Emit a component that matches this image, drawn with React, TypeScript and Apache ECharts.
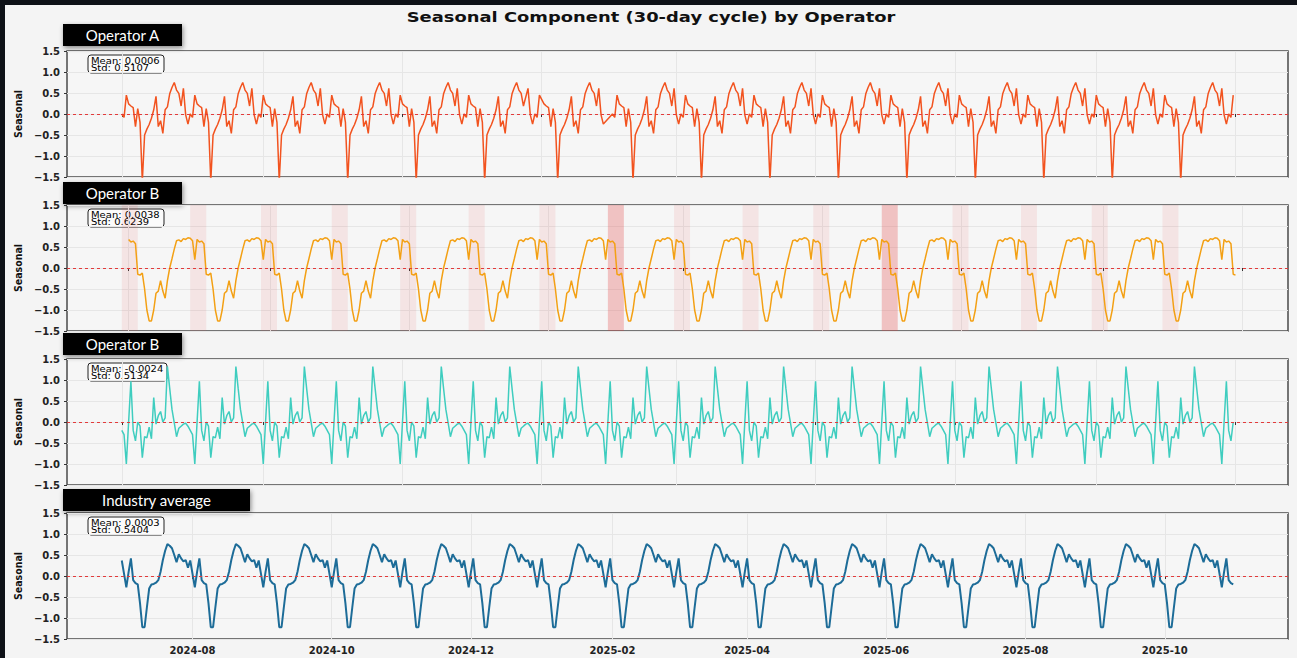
import React, { useEffect, useRef } from "react";
import * as echarts from "echarts";

// ---- data (one 30-sample seasonal cycle per operator) ----
const DATA_START = "2024-07-01";
const DATA_END = "2025-10-31";
const DATA_END_B = "2025-10-29";

// dates absent from the Operator A file
const MISSING_A_DATES = ["2024-12-25", "2025-01-01", "2025-01-29", "2025-01-30", "2025-01-31"];

const AXIS_RANGE = ["2024-06-07", "2025-11-24"];
const AXIS_RANGE_B = ["2024-06-04", "2025-11-21"];

const PANEL_NAMES = ["Operator A", "Operator B", "Operator B", "Industry average"];
const PANEL_COLORS = ["#f2531f", "#f3a014", "#3fcdbf", "#1d6c98"];

const CYCLE_A = [0.0, -0.08, 0.45, 0.24, 0.19, 0.15, -0.3, 0.13, -0.2, -1.6, -0.5, -0.36, -0.25, -0.1, 0.1, 0.42, -0.3, -0.16, -0.46, 0.1, 0.17, 0.48, 0.63, 0.75, 0.57, 0.49, 0.19, 0.61, -0.02, -0.24];
const CYCLE_B = [0.68, 0.62, 0.64, 0.58, -0.15, -0.17, -0.12, -0.5, -1.0, -1.26, -1.26, -1.0, -0.6, -0.55, -0.3, -0.55, -0.72, -0.3, 0.0, 0.22, 0.45, 0.65, 0.67, 0.63, 0.7, 0.68, 0.72, 0.71, 0.65, 0.2];
const CYCLE_C = [-0.2, -0.3, -1.0, 0.0, 0.97, -0.2, -0.45, 0.0, -0.1, -0.85, -0.35, -0.38, -0.12, -0.4, 0.58, -0.05, 0.15, 0.25, 0.0, 0.1, 1.32, 0.8, 0.3, -0.02, -0.35, -0.15, -0.1, -0.05, -0.03, -0.1];
const CYCLE_IND = [0.37, 0.05, -0.27, 0.1, 0.42, -0.1, -0.17, -0.2, -0.65, -1.22, -1.22, -0.75, -0.3, -0.2, -0.19, -0.16, -0.1, 0.1, 0.38, 0.6, 0.76, 0.72, 0.66, 0.5, 0.33, 0.52, 0.42, 0.35, 0.38, 0.2];

const STAT_MEANS = ["0.0006", "0.0038", "-0.0024", "0.0003"];
const STAT_STDS = ["0.5107", "0.6239", "0.5134", "0.5404"];

// shaded month-end periods on the Operator B panel (start dates, 7 days each)
const BAND_B_STARTS = ["2024-06-28", "2024-07-28", "2024-08-28", "2024-09-28", "2024-10-28", "2024-11-27", "2024-12-28", "2025-01-27", "2025-02-25", "2025-03-27", "2025-04-27", "2025-05-27", "2025-06-27", "2025-07-27", "2025-08-27", "2025-09-27"];
const BAND_B_STRONG = ["2025-01-27", "2025-05-27"];

const TOP_TICK_MONTHS = ["01", "03", "05", "07", "09", "11"];
const BOTTOM_TICK_MONTHS = ["02", "04", "06", "08", "10", "12"];

// ---- helpers ----
const DAY = 86400000;
const toMs = (s: string) => Date.UTC(+s.slice(0, 4), +s.slice(5, 7) - 1, +s.slice(8, 10));
const fmt = (ms: number) => new Date(ms).toISOString().slice(0, 10);
const dayRange = (a: string, b: string) => {
  const out: string[] = [];
  for (let t = toMs(a); t <= toMs(b); t += DAY) out.push(fmt(t));
  return out;
};
// repeat the 30-sample cycle over the samples present in a file
const tile = (cycle: number[], cats: string[], end: string, missing: string[]) => {
  let n = 0;
  return cats.map((d) => {
    if (d < DATA_START || d > end) return null;
    if (missing.includes(d)) return null;
    const v = cycle[n % cycle.length];
    n += 1;
    return v;
  });
};
const tickFn = (months: string[]) => (_i: number, v: string) =>
  v.slice(8) === "01" && months.includes(v.slice(5, 7));

const PANEL_TOPS = [51, 205, 359, 513];
const PANEL_H = 126;

export default function App() {
  const ref = useRef<HTMLDivElement>(null);
  useEffect(() => {
    if (!ref.current) return;
    const chart = echarts.init(ref.current, undefined, { renderer: "svg" });
    const catsMain = dayRange(AXIS_RANGE[0], AXIS_RANGE[1]);
    const catsB = dayRange(AXIS_RANGE_B[0], AXIS_RANGE_B[1]);
    const cycles = [CYCLE_A, CYCLE_B, CYCLE_C, CYCLE_IND];
    const catsPer = [catsMain, catsB, catsMain, catsMain];
    const endPer = [DATA_END, DATA_END_B, DATA_END, DATA_END];
    const missingPer = [MISSING_A_DATES, [], [], []];

    const grids = PANEL_TOPS.map((top) => ({
      left: 67,
      right: 9,
      top,
      height: PANEL_H,
      show: true,
      backgroundColor: "#f6f6f6",
      borderColor: "#4a4a4a",
      borderWidth: 1.5,
      containLabel: false,
      outerBoundsMode: "none",
    }));

    const xAxes = catsPer.map((cats, i) => {
      const fn = tickFn(i === 3 ? BOTTOM_TICK_MONTHS : TOP_TICK_MONTHS);
      return {
        type: "category",
        gridIndex: i,
        data: cats,
        boundaryGap: false,
        axisLine: { show: false },
        axisTick: { show: true, interval: fn, length: 3, lineStyle: { color: "#333", width: 1 } },
        axisLabel: {
          show: i === 3,
          interval: fn,
          formatter: (v: string) => v.slice(0, 7),
          fontFamily: "DejaVu Sans",
          fontSize: 10,
          fontWeight: "bold",
          color: "#222",
          margin: 6,
        },
        splitLine: { show: true, interval: fn, lineStyle: { color: "#e6e6e6", width: 1 } },
      };
    });

    const yAxes = cycles.map((_c, i) => ({
      type: "value",
      gridIndex: i,
      min: -1.5,
      max: 1.5,
      interval: 0.5,
      name: "Seasonal",
      nameLocation: "middle",
      nameGap: 44,
      nameRotate: 90,
      nameTextStyle: { fontFamily: "DejaVu Sans Condensed", fontWeight: "bold", fontSize: 10.5, color: "#111" },
      axisLine: { show: false },
      axisTick: { show: true, length: 3, lineStyle: { color: "#333" } },
      axisLabel: {
        formatter: (v: number) => (v < 0 ? "\u2212" : "") + Math.abs(v).toFixed(1),
        fontFamily: "DejaVu Sans",
        fontSize: 10,
        fontWeight: "bold",
        color: "#222",
        margin: 7,
      },
      splitLine: { show: true, lineStyle: { color: "#e6e6e6", width: 1 } },
    }));

    const zeroLine = {
      silent: true,
      symbol: ["none", "none"],
      label: { show: false },
      lineStyle: { color: "#e23b3b", type: [3, 3], width: 1 },
      data: [{ yAxis: 0 }],
    };

    const series: any[] = cycles.map((cyc, i) => ({
      type: "line",
      name: PANEL_NAMES[i],
      xAxisIndex: i,
      yAxisIndex: i,
      data: tile(cyc, catsPer[i], endPer[i], missingPer[i]),
      connectNulls: true,
      showSymbol: false,
      lineStyle: { color: PANEL_COLORS[i], width: i === 3 ? 2 : 1.5 },
      itemStyle: { color: PANEL_COLORS[i] },
      markLine: zeroLine,
      z: 3,
    }));

    series[1].markArea = {
      silent: true,
      data: BAND_B_STARTS.map((s) => [
        {
          xAxis: s,
          itemStyle: { color: BAND_B_STRONG.includes(s) ? "rgba(225,60,60,0.28)" : "rgba(230,80,80,0.11)" },
        },
        { xAxis: fmt(toMs(s) + 7 * DAY) },
      ]),
    };

    const graphic: any[] = [
      { type: "rect", shape: { x: 0, y: 0, width: 1297, height: 5 }, style: { fill: "#0e1117" }, silent: true },
      { type: "rect", shape: { x: 0, y: 0, width: 5, height: 658 }, style: { fill: "#0e1117" }, silent: true },
      {
        type: "text",
        x: 651,
        y: 17,
        scaleX: 1.28,
        style: {
          text: "Seasonal Component (30-day cycle) by Operator",
          font: 'bold 14px "DejaVu Sans"',
          fill: "#111",
          align: "center",
          verticalAlign: "middle",
        },
      },
    ];

    const labelBoxes = [
      { y: 24, w: 119 },
      { y: 182, w: 119 },
      { y: 333, w: 119 },
      { y: 489, w: 187 },
    ];
    labelBoxes.forEach((b, i) => {
      graphic.push({
        type: "group",
        x: 63,
        y: b.y,
        children: [
          {
            type: "rect",
            shape: { x: 0, y: 0, width: b.w, height: 22 },
            style: { fill: "#000", shadowBlur: 5, shadowColor: "rgba(0,0,0,0.45)", shadowOffsetX: 1, shadowOffsetY: 2 },
          },
          {
            type: "text",
            x: b.w / 2,
            y: 11,
            style: {
              text: PANEL_NAMES[i],
              font: "15px Lato",
              fill: "#fff",
              align: "center",
              verticalAlign: "middle",
            },
          },
        ],
      });
    });

    PANEL_TOPS.forEach((top, i) => {
      const w = STAT_MEANS[i].startsWith("-") ? 79 : 76;
      graphic.push({
        type: "group",
        x: 88,
        y: top + 4,
        z: 10,
        children: [
          {
            type: "rect",
            shape: { x: 0, y: 0, width: w, height: 18, r: 3 },
            style: { fill: "#fbfbfb", stroke: "#222", lineWidth: 1 },
          },
          {
            type: "text",
            x: 3,
            y: 6.5,
            scaleX: 1.25,
            style: {
              text: "Mean: " + STAT_MEANS[i],
              font: '8px "DejaVu Sans"',
              fill: "#000",
              align: "left",
              verticalAlign: "middle",
            },
          },
          {
            type: "text",
            x: 3,
            y: 13.5,
            scaleX: 1.25,
            style: {
              text: "Std: " + STAT_STDS[i],
              font: '8px "DejaVu Sans"',
              fill: "#000",
              align: "left",
              verticalAlign: "middle",
            },
          },
        ],
      });
    });

    chart.setOption({
      animation: false,
      backgroundColor: "#f4f4f4",
      grid: grids,
      xAxis: xAxes,
      yAxis: yAxes,
      series,
      graphic,
    });
    return () => chart.dispose();
  }, []);

  return (
    <div
      ref={ref}
      style={{ position: "fixed", left: 0, top: 0, width: 1297, height: 658 }}
    />
  );
}
